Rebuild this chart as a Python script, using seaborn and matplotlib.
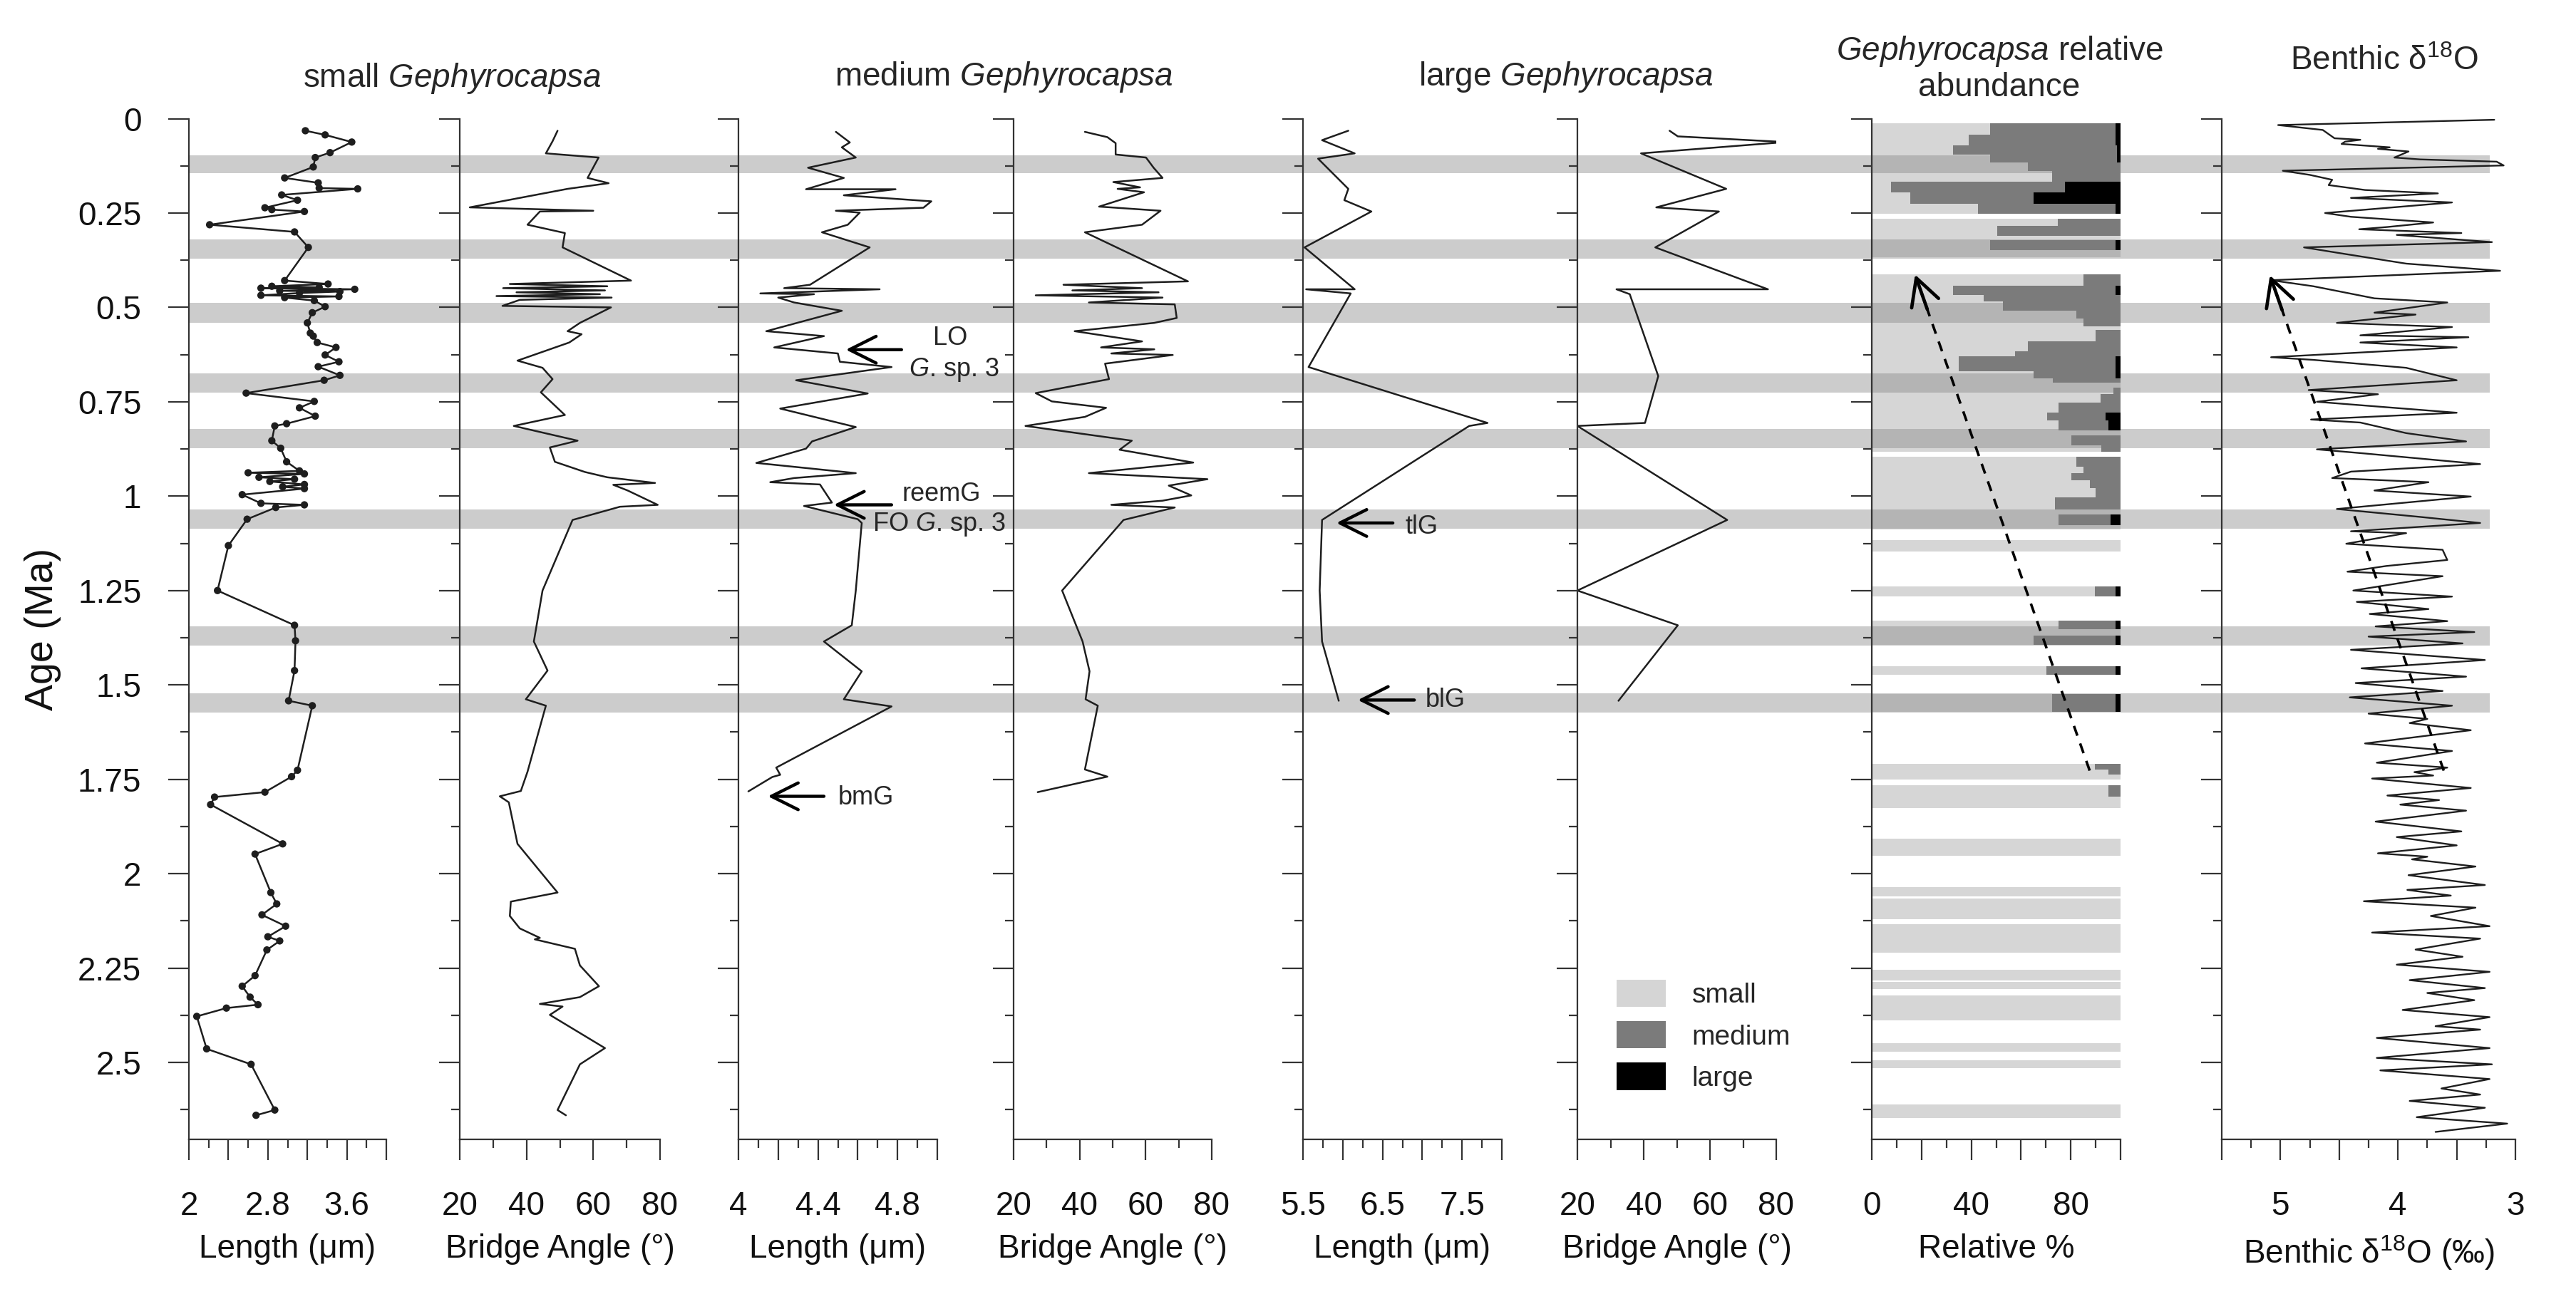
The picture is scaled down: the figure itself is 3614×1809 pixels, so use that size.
import numpy as np
import pandas as pd
import matplotlib
matplotlib.use("Agg")
import matplotlib.pyplot as plt
import seaborn as sns
from matplotlib.ticker import FixedLocator
from matplotlib.patches import Patch

# ---------------- data ----------------
bands = [(0.097, 0.145), (0.320, 0.370), (0.488, 0.540), (0.675, 0.725),
         (0.822, 0.872), (1.036, 1.086), (1.345, 1.396), (1.523, 1.573)]

s_len_age = [0.032,0.043,0.062,0.090,0.103,0.128,0.157,0.170,0.184,0.186,
             0.202,0.216,0.236,0.241,0.246,0.281,0.300,0.341,0.429,0.438,
             0.444,0.447,0.449,0.452,0.456,0.458,0.462,0.468,0.471,0.474,
             0.482,0.498,0.514,0.541,0.568,0.576,0.593,0.606,0.626,0.644,
             0.657,0.680,0.693,0.727,0.749,0.766,0.788,0.808,0.814,0.853,
             0.873,0.909,0.933,0.938,0.941,0.950,0.955,0.961,0.969,0.975,
             0.980,0.996,1.019,1.023,1.030,1.061,1.131,1.250,1.342,1.383,
             1.462,1.542,1.555,1.726,1.743,1.784,1.797,1.817,1.921,1.948,
             2.050,2.080,2.109,2.139,2.167,2.178,2.202,2.270,2.298,2.327,
             2.347,2.356,2.378,2.464,2.505,2.626,2.640]
s_len = [3.18,3.38,3.65,3.43,3.28,3.26,2.97,3.31,3.32,3.71,
         2.94,3.10,2.77,2.84,3.17,2.21,3.07,3.21,2.97,3.41,
         2.84,3.32,2.73,3.68,2.92,3.53,3.12,2.73,3.52,2.97,
         3.27,3.38,3.25,3.20,3.23,3.26,3.30,3.49,3.38,3.52,
         3.31,3.53,3.37,2.58,3.27,3.12,3.28,2.99,2.87,2.84,
         2.93,2.99,3.12,2.60,3.17,2.71,3.07,2.82,3.17,2.95,
         3.17,2.54,2.73,3.17,2.88,2.59,2.40,2.29,3.07,3.08,
         3.07,3.01,3.25,3.10,3.04,2.77,2.26,2.22,2.95,2.67,
         2.83,2.89,2.74,2.98,2.80,2.92,2.79,2.67,2.54,2.62,
         2.70,2.38,2.08,2.18,2.63,2.87,2.68]

s_ang_age = [0.032,0.060,0.092,0.103,0.157,0.171,0.186,0.235,0.244,0.246,
             0.281,0.303,0.341,0.429,0.438,0.444,0.449,0.455,0.460,0.465,
             0.470,0.474,0.480,0.496,0.500,0.541,0.563,0.571,0.593,0.641,
             0.660,0.690,0.725,0.785,0.814,0.853,0.871,0.909,0.936,0.950,
             0.965,0.970,0.985,1.023,1.028,1.063,1.250,1.385,1.462,1.538,
             1.555,1.730,1.781,1.795,1.811,1.921,2.050,2.074,2.112,2.145,
             2.170,2.174,2.199,2.243,2.298,2.327,2.345,2.352,2.374,2.462,
             2.505,2.626,2.640]
s_ang = [49.3,47.8,45.8,61.6,58.3,64.6,52.3,23.0,60.0,44.0,
         40.3,51.5,50.8,71.3,35.0,64.2,33.0,63.5,37.0,62.0,
         31.0,65.5,38.0,32.8,65.3,56.0,52.3,56.5,52.8,37.3,
         44.8,47.8,44.3,51.5,36.2,55.3,47.0,48.5,57.5,64.2,
         78.5,66.0,70.3,79.3,68.0,53.8,44.8,42.2,46.3,39.8,
         45.8,40.3,38.3,32.0,34.7,37.3,49.3,35.3,35.0,38.0,
         44.0,42.5,54.5,56.0,61.7,56.0,44.0,50.8,47.0,63.5,
         56.0,49.3,51.8]

m_len_age = [0.035,0.063,0.076,0.103,0.130,0.157,0.187,0.187,0.203,0.219,
             0.236,0.244,0.249,0.281,0.301,0.341,0.440,0.449,0.452,0.463,
             0.465,0.474,0.487,0.509,0.563,0.576,0.606,0.622,0.644,0.658,
             0.693,0.728,0.768,0.817,0.855,0.874,0.912,0.939,0.952,0.963,
             0.969,1.017,1.026,1.061,1.071,1.250,1.342,1.385,1.464,1.538,
             1.557,1.719,1.738,1.744,1.782]
m_len = [4.49,4.56,4.52,4.59,4.35,4.53,4.34,4.79,4.53,4.97,
         4.93,4.49,4.61,4.55,4.42,4.66,4.36,4.23,4.71,4.11,
         4.38,4.20,4.28,4.52,4.14,4.43,4.18,4.50,4.51,4.77,
         4.29,4.65,4.21,4.59,4.37,4.34,4.09,4.59,4.28,4.16,
         4.41,4.47,4.33,4.60,4.62,4.59,4.57,4.43,4.62,4.53,
         4.77,4.19,4.21,4.17,4.05]

m_ang_age = [0.035,0.049,0.065,0.095,0.103,0.130,0.157,0.168,0.182,0.186,
             0.195,0.233,0.244,0.281,0.301,0.431,0.440,0.449,0.455,0.460,
             0.468,0.474,0.487,0.492,0.528,0.541,0.563,0.590,0.606,0.611,
             0.622,0.626,0.649,0.690,0.727,0.749,0.766,0.790,0.814,0.853,
             0.877,0.911,0.939,0.955,0.972,0.998,1.012,1.023,1.030,1.063,
             1.250,1.385,1.464,1.538,1.555,1.724,1.743,1.784]
m_ang = [41.6,48.4,50.9,50.9,60.1,62.4,65.1,50.2,58.3,51.5,
         59.5,45.9,64.5,58.9,41.6,72.8,35.1,58.9,37.8,63.9,
         26.7,65.1,42.8,68.8,69.4,62.6,38.5,58.9,46.5,62.6,
         49.6,68.2,47.7,48.9,26.7,31.6,48.0,41.6,23.6,55.8,
         52.1,74.4,42.8,78.7,67.0,73.8,65.1,49.6,68.8,53.3,
         34.7,40.9,43.0,41.8,45.5,41.6,48.4,27.3]

l_len_age = [0.032,0.057,0.092,0.106,0.186,0.216,0.246,0.341,0.452,0.452,
             0.463,0.658,0.806,0.814,1.063,1.250,1.385,1.542]
l_len = [6.07,5.74,6.15,5.69,6.07,6.02,6.36,5.52,6.15,5.54,
         6.10,5.57,7.82,7.59,5.74,5.71,5.74,5.95]

l_ang_age = [0.032,0.047,0.062,0.092,0.186,0.235,0.246,0.341,0.452,0.452,
             0.465,0.682,0.806,0.814,1.063,1.250,1.342,1.542]
l_ang = [47.8,50.3,82.8,39.2,64.9,43.8,62.7,43.5,77.5,31.8,
         35.8,44.4,40.4,20.0,65.2,20.0,50.3,32.4]

# relative abundance rows (age interval, % small, % large; medium = rest)
ra_top = [0.013,0.042,0.071,0.096,0.117,0.139,0.167,0.196,0.226,0.265,
          0.285,0.311,0.322,0.348,0.413,0.442,0.468,0.485,0.509,0.529,
          0.550,0.560,0.590,0.617,0.630,0.670,0.688,0.700,0.713,0.730,
          0.752,0.778,0.800,0.826,0.839,0.865,0.896,0.922,0.939,0.957,
          0.978,1.004,1.035,1.048,1.077,1.117,1.239,1.330,1.352,1.369,
          1.450,1.524,1.709,1.725,1.738,1.766,1.795,1.907,2.036,2.065,
          2.133,2.255,2.287,2.323,2.449,2.494,2.611]
ra_base = [0.042,0.071,0.096,0.117,0.139,0.167,0.196,0.226,0.252,0.285,
           0.311,0.322,0.348,0.367,0.442,0.468,0.485,0.509,0.529,0.550,
           0.560,0.590,0.617,0.630,0.670,0.688,0.700,0.713,0.730,0.752,
           0.778,0.800,0.826,0.839,0.865,0.882,0.922,0.939,0.957,0.978,
           1.004,1.035,1.048,1.077,1.088,1.146,1.265,1.352,1.369,1.393,
           1.474,1.571,1.725,1.738,1.750,1.795,1.826,1.953,2.061,2.120,
           2.210,2.282,2.305,2.388,2.471,2.515,2.647]
ra_small = [47.5,38.9,32.7,47.5,62.7,72.6,7.8,15.5,42.7,74.7,
            50.3,100,47.7,100,85.2,32.7,45.0,52.7,82.3,85.2,
            100,90.0,62.7,57.5,35.0,65.1,72.8,100,97.0,91.9,
            75.2,70.4,75.2,100,80.2,92.3,82.3,85.2,80.2,87.6,
            90.0,73.5,100,75.0,100,100,89.8,75.0,100,64.9,
            70.2,72.6,89.8,95.0,100,95.0,100,100,100,100,
            100,100,100,100,100,100,100]
ra_large = [2,2,1.5,1.5,0,0,22.3,34.9,2,0,
            0,0,2,0,0,2,0,0,0,0,
            0,0,0,0,2,2,0,0,0,0,
            0,6,5,0,0,0,0,0,0,0,
            0,0,0,4,0,0,2,2,0,2,
            2,2,0,0,0,0,0,0,0,0,
            0,0,0,0,0,0,0]

# benthic d18O (age Ma, permil)
d18o_pairs = [
    (0.003,3.18),(0.017,5.02),(0.030,4.64),(0.052,4.54),(0.056,4.32),(0.061,4.45),(0.067,4.48),(0.076,4.07),(0.080,4.17),(0.087,3.91),
    (0.103,4.03),(0.108,3.81),(0.114,3.16),(0.124,3.10),(0.138,4.98),(0.149,4.75),(0.162,4.56),(0.176,4.59),(0.189,4.28),(0.198,3.66),
    (0.210,4.40),(0.222,3.54),(0.250,4.62),(0.260,4.40),(0.275,3.70),(0.287,4.09),(0.293,4.33),(0.303,3.46),(0.308,4.01),(0.327,3.20),
    (0.341,4.80),(0.357,4.48),(0.384,3.93),(0.403,3.13),(0.428,5.08),(0.444,4.72),(0.476,4.20),(0.487,3.58),(0.514,4.20),(0.519,3.85),
    (0.541,4.52),(0.552,3.54),(0.574,4.32),(0.579,3.40),(0.593,4.32),(0.606,3.50),(0.632,5.08),(0.639,4.72),(0.660,3.93),(0.693,3.50),
    (0.719,4.76),(0.730,4.17),(0.750,4.69),(0.779,3.50),(0.797,4.74),(0.805,4.32),(0.833,3.93),(0.855,3.42),(0.876,4.69),(0.887,4.28),
    (0.915,3.30),(0.935,4.40),(0.952,4.56),(0.963,3.74),(0.985,4.20),(1.001,3.38),(1.034,4.52),(1.055,3.81),(1.071,3.30),(1.093,4.40),
    (1.098,3.93),(1.126,4.44),(1.142,3.62),(1.169,3.58),(1.185,4.10),(1.200,4.43),(1.212,3.62),(1.250,4.38),(1.266,3.54),(1.280,4.35),
    (1.299,3.74),(1.312,4.24),(1.331,3.58),(1.345,4.19),(1.360,3.35),(1.372,4.25),(1.390,3.45),(1.407,4.40),(1.434,3.26),(1.456,4.31),
    (1.478,3.42),(1.495,4.36),(1.516,3.62),(1.533,4.41),(1.555,3.54),(1.576,4.25),(1.590,3.75),(1.601,3.90),(1.620,3.38),(1.655,4.28),
    (1.675,3.54),(1.706,4.18),(1.719,3.58),(1.731,3.86),(1.740,3.70),(1.748,4.22),(1.773,3.38),(1.793,4.09),(1.805,3.65),(1.817,3.98),
    (1.833,3.42),(1.862,4.19),(1.888,3.46),(1.903,4.01),(1.925,3.50),(1.946,4.17),(1.955,3.75),(1.962,3.88),(1.981,3.34),(2.004,3.91),
    (2.030,3.26),(2.043,3.92),(2.058,3.55),(2.073,4.29),(2.090,3.34),(2.112,3.72),(2.139,3.22),(2.156,4.22),(2.172,3.30),(2.201,3.85),
    (2.220,3.45),(2.241,4.01),(2.260,3.22),(2.282,3.90),(2.303,3.26),(2.316,3.75),(2.335,3.35),(2.361,3.96),(2.380,3.22),(2.404,3.68),
    (2.413,3.30),(2.435,4.18),(2.462,3.22),(2.488,4.18),(2.505,3.20),(2.521,4.15),(2.544,3.22),(2.569,3.63),(2.585,3.30),(2.602,3.90),
    (2.620,3.26),(2.645,3.84),(2.662,3.07),(2.684,3.68)]
d18o_age = [a for a, v in d18o_pairs]
d18o = [v for a, v in d18o_pairs]

legend_labels = ["small", "medium", "large"]

# ---------------- style ----------------
sns.set_theme(style="ticks")
plt.rcParams["font.family"] = ["Liberation Sans", "DejaVu Sans"]
plt.rcParams["mathtext.fontset"] = "custom"
plt.rcParams["mathtext.rm"] = "Liberation Sans"
plt.rcParams["mathtext.it"] = "Liberation Sans:italic"
plt.rcParams["mathtext.bf"] = "Liberation Sans:bold"

W, H = 3614, 1809
Y_TOP, Y_BOT = 166.5, 1598.6
YMAX = 2.703
INK = "#1e1e1e"
SPINE = "#333333"
C_BAND = "#cccccc"
C_MED = "#7b7b7b"
FS = 33

fig = plt.figure(figsize=(W / 100, H / 100), dpi=100)


def rect(x0, x1):
    return [x0 / W, 1 - Y_BOT / H, (x1 - x0) / W, (Y_BOT - Y_TOP) / H]


# background axes carrying the grey glacial bands across all panels
bg = fig.add_axes(rect(265, 3493), zorder=0)
bg.set_ylim(YMAX, 0)
bg.set_xlim(0, 1)
bg.axis("off")
for a, b in bands:
    bg.axhspan(a, b, color=C_BAND, lw=0)

panel_x = [(265, 542), (645, 926), (1036, 1315), (1422, 1700),
           (1828, 2107), (2213, 2492), (2626, 2975), (3117, 3529)]
axes = []
for (x0, x1) in panel_x:
    ax = fig.add_axes(rect(x0, x1), zorder=1)
    ax.patch.set_alpha(0)
    ax.set_ylim(YMAX, 0)
    for s in ["top", "right"]:
        ax.spines[s].set_visible(False)
    for s in ["left", "bottom"]:
        ax.spines[s].set_color(SPINE)
        ax.spines[s].set_linewidth(1.6)
    ax.yaxis.set_major_locator(FixedLocator(np.arange(0, 2.51, 0.25)))
    ax.yaxis.set_minor_locator(FixedLocator(np.arange(0.125, 2.7, 0.25)))
    ax.tick_params(which="major", direction="out", length=21, width=1.6,
                   color=SPINE, labelsize=FS, labelcolor="#111111")
    ax.tick_params(which="minor", direction="out", length=8.5, width=1.6, color=SPINE)
    ax.tick_params(axis="x", which="major", pad=31)
    ax.tick_params(axis="y", which="major", pad=27)
    ax.tick_params(axis="y", labelleft=False)
    ax.grid(False)
    axes.append(ax)

ax1, ax2, ax3, ax4, ax5, ax6, ax7, ax8 = axes

ax1.tick_params(axis="y", labelleft=True)
ax1.set_yticklabels(["0", "0.25", "0.5", "0.75", "1", "1.25", "1.5", "1.75", "2", "2.25", "2.5"])


def set_xticks(ax, lim, major, labels, minor):
    ax.set_xlim(*lim)
    ax.xaxis.set_major_locator(FixedLocator(major))
    ax.set_xticklabels(labels)
    ax.xaxis.set_minor_locator(FixedLocator(minor))


set_xticks(ax1, (2, 4), [2, 2.4, 2.8, 3.2, 3.6, 4.0], ["2", "", "2.8", "", "3.6", ""], [2.2, 2.6, 3.0, 3.4, 3.8])
for ax in (ax2, ax4, ax6):
    set_xticks(ax, (20, 80), [20, 40, 60, 80], ["20", "40", "60", "80"], [30, 50, 70])
set_xticks(ax3, (4, 5), [4.0, 4.2, 4.4, 4.6, 4.8, 5.0], ["4", "", "4.4", "", "4.8", ""],
           [4.1, 4.3, 4.5, 4.7, 4.9])
set_xticks(ax5, (5.5, 8), [5.5, 6, 6.5, 7, 7.5, 8], ["5.5", "", "6.5", "", "7.5", ""],
           [5.75, 6.25, 6.75, 7.25, 7.75])
set_xticks(ax7, (0, 100), [0, 20, 40, 60, 80, 100], ["0", "", "40", "", "80", ""],
           [10, 30, 50, 70, 90])
set_xticks(ax8, (5.5, 3.0), [5.5, 5, 4.5, 4, 3.5, 3], ["", "5", "", "4", "", "3"],
           [5.25, 4.75, 4.25, 3.75, 3.25])

# ---------------- lines ----------------
LW = 1.8
sns.lineplot(x=s_len, y=s_len_age, sort=False, estimator=None, color=INK, lw=LW, ax=ax1)
sns.scatterplot(x=s_len, y=s_len_age, color=INK, s=55, edgecolor="none", ax=ax1, zorder=3)
sns.lineplot(x=s_ang, y=s_ang_age, sort=False, estimator=None, color=INK, lw=LW, ax=ax2)
sns.lineplot(x=m_len, y=m_len_age, sort=False, estimator=None, color=INK, lw=LW, ax=ax3)
sns.lineplot(x=m_ang, y=m_ang_age, sort=False, estimator=None, color=INK, lw=LW, ax=ax4)
sns.lineplot(x=l_len, y=l_len_age, sort=False, estimator=None, color=INK, lw=LW, ax=ax5)
sns.lineplot(x=l_ang, y=l_ang_age, sort=False, estimator=None, color=INK, lw=LW, ax=ax6)
sns.lineplot(x=d18o, y=d18o_age, sort=False, estimator=None, color=INK, lw=1.7, ax=ax8)
for ax in axes:
    ax.set_ylim(YMAX, 0)
    ax.set_xlabel("")
    ax.set_ylabel("")

# ---------------- relative abundance ----------------
top = np.array(ra_top)
base = np.array(ra_base)
small = np.array(ra_small, dtype=float)
large = np.array(ra_large, dtype=float)
medium = 100 - small - large
centers = (top + base) / 2
thick = base - top
ax7.barh(centers, small, height=thick, left=0, color="#848484", alpha=0.333, lw=0)
ax7.barh(centers, medium, height=thick, left=small, color=C_MED, lw=0)
ax7.barh(centers, large, height=thick, left=small + medium, color="black", lw=0)
ax7.set_xlim(0, 100)
ax7.set_ylim(YMAX, 0)

# ---------------- labels ----------------
xlabels = ["Length (μm)", "Bridge Angle (°)", "Length (μm)", "Bridge Angle (°)",
           "Length (μm)", "Bridge Angle (°)", "Relative %", "Benthic δ$^{18}$O (‰)"]
for ax, lab in zip(axes, xlabels):
    ax.set_xlabel(lab, fontsize=FS, labelpad=12, color="#111111")

fig.text(60 / W, 1 - (Y_TOP + Y_BOT) / 2 / H, "Age (Ma)", rotation=90,
         ha="center", va="center", fontsize=40, color="#111111")

TFS = 33
fig.text(634 / W, 1 - 110 / H, "small $\\mathit{Gephyrocapsa}$", ha="center", va="center", fontsize=TFS)
fig.text(1408 / W, 1 - 108 / H, "medium $\\mathit{Gephyrocapsa}$", ha="center", va="center", fontsize=TFS)
fig.text(2197 / W, 1 - 108 / H, "large $\\mathit{Gephyrocapsa}$", ha="center", va="center", fontsize=TFS)
fig.text(2805 / W, 1 - 72 / H, "$\\mathit{Gephyrocapsa}$ relative", ha="center", va="center", fontsize=TFS)
fig.text(2805 / W, 1 - 123 / H, "abundance", ha="center", va="center", fontsize=TFS)
fig.text(3345 / W, 1 - 86 / H, "Benthic δ$^{18}$O", ha="center", va="center", fontsize=TFS)

# ---------------- event arrows ----------------
AFS = 26
aprops = dict(arrowstyle="->,head_length=0.9,head_width=0.45", lw=3.2, color="black",
              mutation_scale=30, shrinkA=0, shrinkB=0)
ax3.annotate("", xy=(4.54, 0.612), xytext=(4.82, 0.612), arrowprops=aprops)
ax3.text(5.065, 0.582, "LO", ha="center", va="center", fontsize=AFS)
ax3.text(5.085, 0.666, "$\\mathit{G}$. sp. 3", ha="center", va="center", fontsize=AFS)
ax3.annotate("", xy=(4.48, 1.023), xytext=(4.77, 1.023), arrowprops=aprops)
ax3.text(5.02, 0.994, "reemG", ha="center", va="center", fontsize=AFS)
ax3.text(5.01, 1.074, "FO $\\mathit{G}$. sp. 3", ha="center", va="center", fontsize=AFS)
ax3.annotate("", xy=(4.148, 1.795), xytext=(4.43, 1.795), arrowprops=aprops)
ax3.text(4.64, 1.798, "bmG", ha="center", va="center", fontsize=AFS)
ax5.annotate("", xy=(5.92, 1.071), xytext=(6.63, 1.071), arrowprops=aprops)
ax5.text(6.99, 1.082, "tlG", ha="center", va="center", fontsize=AFS)
ax5.annotate("", xy=(6.19, 1.540), xytext=(6.90, 1.540), arrowprops=aprops)
ax5.text(7.29, 1.540, "blG", ha="center", va="center", fontsize=AFS)

# ---------------- dashed trend arrows ----------------
def dashed_arrow(ax, tail, tip):
    (x0, y0), (x1, y1) = tail, tip
    t = 0.07
    xs, ys = x1 + t * (x0 - x1), y1 + t * (y0 - y1)
    ax.plot([x0, x1 + 0.02 * (x0 - x1)], [y0, y1 + 0.02 * (y0 - y1)], ls=(0, (4, 3.2)),
            color="black", lw=2.6)
    ax.annotate("", xy=(x1, y1), xytext=(xs, ys),
                arrowprops=dict(arrowstyle="->,head_length=0.9,head_width=0.48", lw=3.4,
                                color="black", mutation_scale=30, shrinkA=0, shrinkB=0))


dashed_arrow(ax7, (87.6, 1.727), (17.4, 0.413))
dashed_arrow(ax8, (3.61, 1.727), (5.09, 0.415))

# ---------------- legend ----------------
handles = [Patch(facecolor="#d5d5d5", edgecolor="none"),
           Patch(facecolor=C_MED, edgecolor="none"),
           Patch(facecolor="black", edgecolor="none")]
ax6.legend(handles, legend_labels, loc="upper left", bbox_to_anchor=(0.197, 0.156),
           frameon=False, fontsize=28, handlelength=1.77, handleheight=1.13,
           labelspacing=0.46, handletextpad=0.95, borderpad=0, borderaxespad=0)

fig.savefig("out.png", dpi=100)
